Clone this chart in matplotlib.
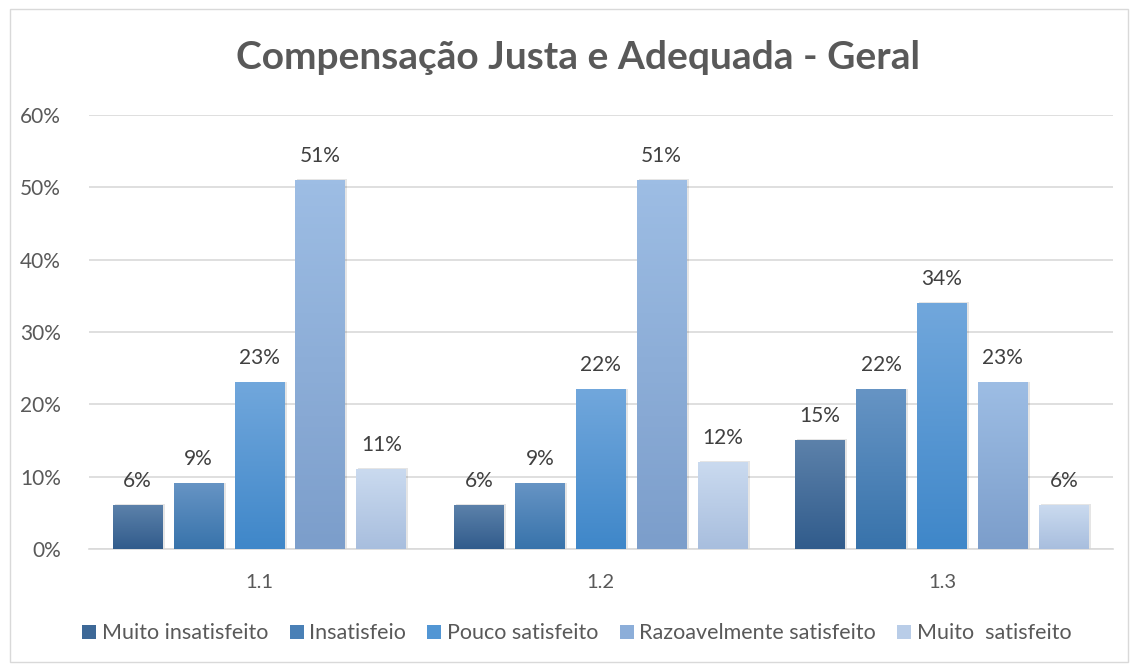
import numpy as np
import matplotlib
matplotlib.use("Agg")
import matplotlib.pyplot as plt
from matplotlib.patches import Rectangle
from matplotlib.colors import LinearSegmentedColormap

plt.rcParams['font.family'] = ['Lato', 'DejaVu Sans']

categories = ["1.1", "1.2", "1.3"]
series = ["Muito insatisfeito", "Insatisfeio", "Pouco satisfeito",
          "Razoavelmente satisfeito", "Muito  satisfeito"]
values = [
    [6, 6, 15],
    [9, 9, 22],
    [23, 22, 34],
    [51, 51, 23],
    [11, 12, 6],
]
# (bottom colour, top colour) of each gradient
grads = [("#315c8c", "#5c81aa"),
         ("#3873ab", "#6694c4"),
         ("#3f87c9", "#71a7dc"),
         ("#7c9ecb", "#9dbde4"),
         ("#a8bede", "#cadaef")]
legend_cols = ["#3d6897", "#4a80b6", "#5296d4", "#8caed9", "#b9cde8"]

fig = plt.figure(figsize=(11.31, 6.66), dpi=100)
ax = fig.add_axes([0.0786, 0.1757, 0.9051, 0.6517])

step = 0.1785
width = 0.1465
x = np.arange(len(categories))
handles = []
for i, s in enumerate(series):
    xs = x + (i - 2) * step
    cmap = LinearSegmentedColormap.from_list(s, [grads[i][0], grads[i][1]])
    for xi, v in zip(xs, values[i]):
        # soft shadow
        ax.add_patch(Rectangle((xi - width / 2 + 0.006, 0), width, v + 0.15,
                               facecolor="#000000", alpha=0.10, lw=0, zorder=2))
        grad = np.linspace(0, 1, 100).reshape(-1, 1)
        ax.imshow(grad, cmap=cmap, origin="lower", aspect="auto",
                  extent=(xi - width / 2, xi + width / 2, 0, v), zorder=3)
        ax.text(xi, v + 2.0, f"{v}%", ha="center", va="bottom",
                fontsize=15, color="#404040")
    handles.append(Rectangle((0, 0), 1, 1, facecolor=legend_cols[i], lw=0))

ax.set_xlim(-0.5, 2.5)
ax.set_ylim(0, 60)
ax.set_xticks(x)
ax.set_xticklabels(categories, fontsize=14.5, color="#595959")
ax.set_yticks(range(0, 61, 10))
ax.set_yticklabels([f"{t}%" for t in range(0, 61, 10)], fontsize=15, color="#595959")
ax.tick_params(length=0)
ax.tick_params(axis="x", pad=18)
ax.tick_params(axis="y", pad=20)
ax.grid(axis="y", color="#d9d9d9", lw=1.2, zorder=0)
ax.set_axisbelow(True)
for sp in ["top", "right", "left"]:
    ax.spines[sp].set_visible(False)
ax.spines["bottom"].set_color("#d9d9d9")
ax.spines["bottom"].set_linewidth(1.2)

fig.text(0.511, 0.913, "Compensação Justa e Adequada - Geral", ha="center",
         va="center", fontsize=28, fontweight="bold", color="#595959")

fig.legend(handles, series, loc="center", bbox_to_anchor=(0.51, 0.049), ncol=5,
           frameon=False, fontsize=15.5, handlelength=0.65, handleheight=0.65,
           handletextpad=0.25, columnspacing=1.0, labelcolor="#595959")

fig.add_artist(Rectangle((0.009, 0.006), 0.988, 0.98, transform=fig.transFigure,
                         fill=False, edgecolor="#d9d9d9", lw=1))

fig.savefig("out.png", dpi=100)
